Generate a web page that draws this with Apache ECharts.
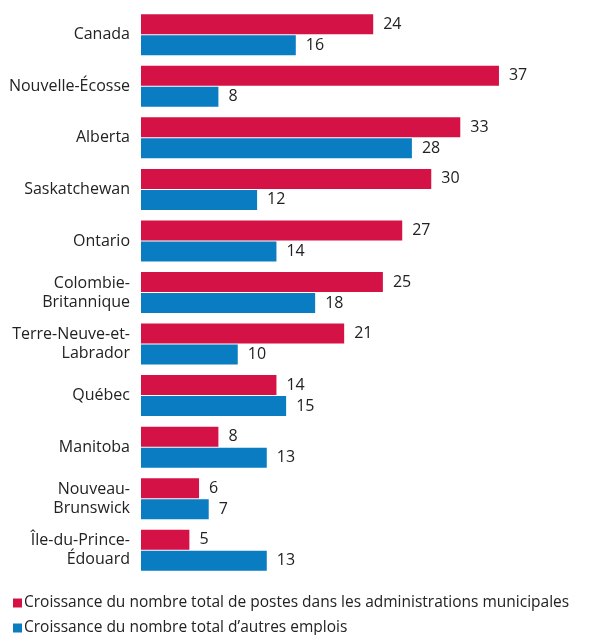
<!DOCTYPE html>
<html><head><meta charset="utf-8">
<script src="https://cdn.jsdelivr.net/npm/echarts@6/dist/echarts.min.js"></script>
<style>html,body{margin:0;padding:0;background:#fff}#c{width:590px;height:635px}</style>
</head><body><div id="c"></div>
<script>
var categories = ["Canada","Nouvelle-Écosse","Alberta","Saskatchewan","Ontario","Colombie-\nBritannique","Terre-Neuve-et-\nLabrador","Québec","Manitoba","Nouveau-\nBrunswick","Île-du-Prince-\nÉdouard"];
var municipal = [24,37,33,30,27,25,21,14,8,6,5];
var others = [16,8,28,12,14,18,10,15,13,7,13];
var seriesNames = ["Croissance du nombre total de postes dans les administrations municipales","Croissance du nombre total d’autres emplois"];
var font = "'Open Sans', 'Noto Sans', sans-serif";
var chart = echarts.init(document.getElementById('c'), null, {renderer:'canvas'});
chart.setOption({
  animation:false,
  textStyle:{fontFamily:font},
  grid:{left:141, width:387, top:9, bottom:59},
  xAxis:{type:'value', min:0, max:40, show:false},
  yAxis:{type:'category', data:categories, inverse:true,
    axisLine:{show:false}, axisTick:{show:false},
    axisLabel:{margin:11, fontSize:16, color:'#222', lineHeight:19, fontFamily:font}},
  legend:{orient:'vertical', left:8, top:590, height:60, itemWidth:9, itemHeight:9, itemGap:9, icon:'rect',
    textStyle:{fontSize:15.5, color:'#222', fontFamily:font, padding:[0,0,0,-3]}},
  series:[
    {name:seriesNames[0], type:'bar', data:municipal, barWidth:20, barGap:'5%',
     itemStyle:{color:'#D51245'},
     label:{show:true, position:'right', distance:10, fontSize:16, color:'#222', fontFamily:font}},
    {name:seriesNames[1], type:'bar', data:others, barWidth:20,
     itemStyle:{color:'#0A7DC2'},
     label:{show:true, position:'right', distance:10, fontSize:16, color:'#222', fontFamily:font}}
  ]
});
</script></body></html>
